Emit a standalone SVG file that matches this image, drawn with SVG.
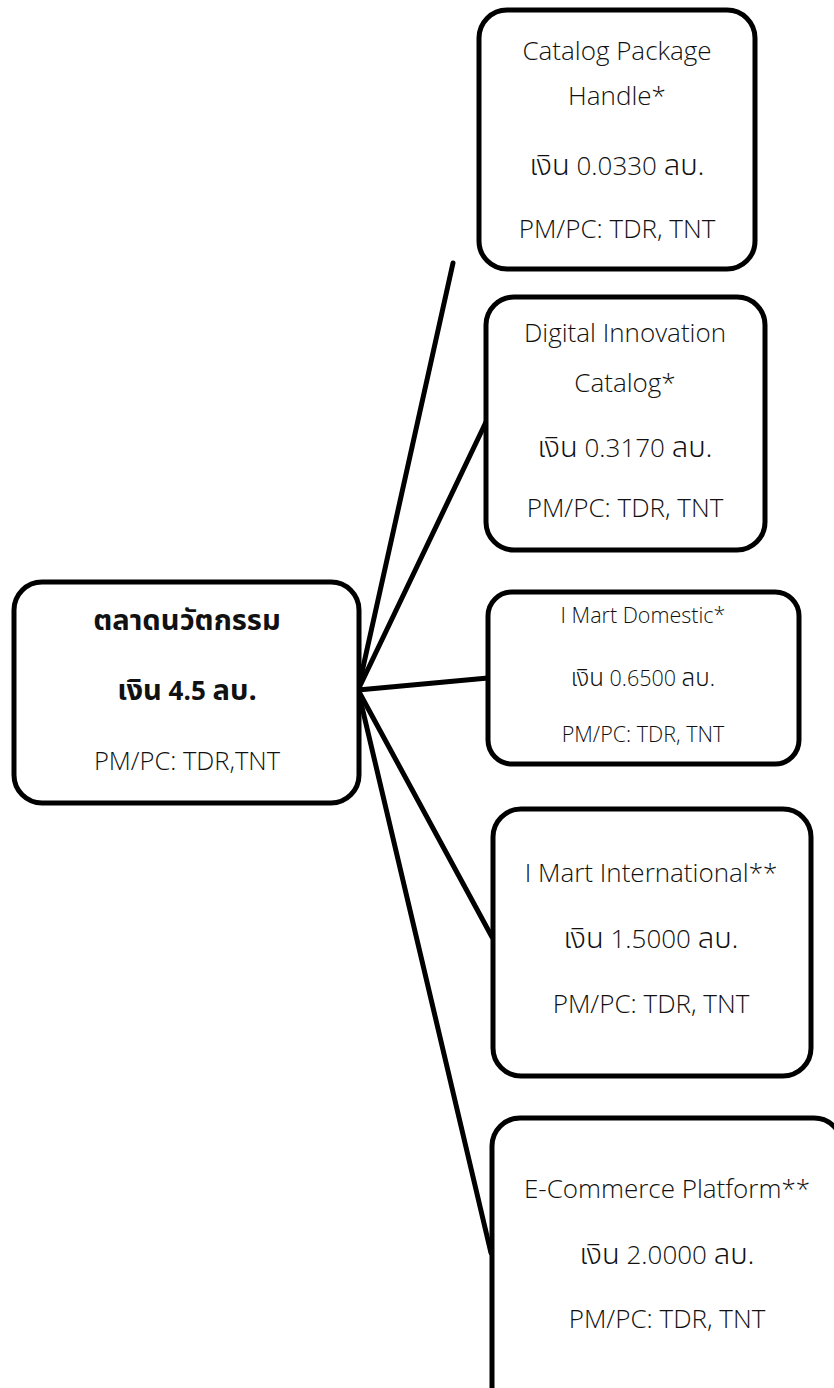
<svg xmlns="http://www.w3.org/2000/svg" width="834" height="1388" viewBox="0 0 834 1388">
<style>
.box{fill:#fff;stroke:#000;stroke-width:5}
.t{font-family:"Open Sans","Noto Sans","Noto Sans Thai","Leelawadee UI",Tahoma,sans-serif;font-size:26px;font-weight:300;fill:#111;text-anchor:middle}
.s{font-size:21.5px}
.b{font-weight:bold;font-size:26px;fill:#111}
.th{font-size:1.12em}
.m{font-size:25.5px}
.c{stroke:#000;stroke-width:5;fill:none;stroke-linecap:round}
</style>
<rect width="834" height="1388" fill="#fff"/>
<g id="connectors">
<line class="c" x1="358" y1="690" x2="453" y2="263"/>
<line class="c" x1="358" y1="690" x2="486" y2="422"/>
<line class="c" x1="358" y1="690" x2="488" y2="678"/>
<line class="c" x1="358" y1="690" x2="492" y2="937"/>
<line class="c" x1="358" y1="690" x2="491" y2="1253"/>
</g>
<g id="node-main">
<rect class="box" x="14" y="582" width="345" height="221" rx="28"/>
<text class="t b" x="187" y="630"><tspan class="th">ตลาดนวัตกรรม</tspan></text>
<text class="t b" x="187" y="700"><tspan class="th">เงิน</tspan> 4.5 <tspan class="th">ลบ.</tspan></text>
<text class="t m" x="187" y="770">PM/PC: TDR,TNT</text>
</g>
<g id="node-catalog-package">
<rect class="box" x="479" y="10" width="276" height="259" rx="28"/>
<text class="t" x="617" y="60">Catalog Package</text>
<text class="t" x="617" y="105">Handle*</text>
<text class="t" x="617" y="175"><tspan class="th">เงิน</tspan> 0.0330 <tspan class="th">ลบ.</tspan></text>
<text class="t" x="617" y="238">PM/PC: TDR, TNT</text>
</g>
<g id="node-digital-innovation">
<rect class="box" x="486" y="297" width="279" height="253" rx="28"/>
<text class="t" x="625" y="342">Digital Innovation</text>
<text class="t" x="625" y="392">Catalog*</text>
<text class="t" x="625" y="457"><tspan class="th">เงิน</tspan> 0.3170 <tspan class="th">ลบ.</tspan></text>
<text class="t" x="625" y="517">PM/PC: TDR, TNT</text>
</g>
<g id="node-imart-domestic">
<rect class="box" x="488" y="592" width="311" height="172" rx="24"/>
<text class="t s" x="643" y="623">I Mart Domestic*</text>
<text class="t s" x="643" y="686"><tspan class="th">เงิน</tspan> 0.6500 <tspan class="th">ลบ.</tspan></text>
<text class="t s" x="643" y="742">PM/PC: TDR, TNT</text>
</g>
<g id="node-imart-international">
<rect class="box" x="493" y="809" width="318" height="267" rx="28"/>
<text class="t" x="651" y="882">I Mart International**</text>
<text class="t" x="651" y="948"><tspan class="th">เงิน</tspan> 1.5000 <tspan class="th">ลบ.</tspan></text>
<text class="t" x="651" y="1013">PM/PC: TDR, TNT</text>
</g>
<g id="node-ecommerce">
<rect class="box" x="492" y="1118" width="350" height="300" rx="28"/>
<text class="t" x="667" y="1198">E-Commerce Platform**</text>
<text class="t" x="667" y="1264"><tspan class="th">เงิน</tspan> 2.0000 <tspan class="th">ลบ.</tspan></text>
<text class="t" x="667" y="1328">PM/PC: TDR, TNT</text>
</g>
</svg>
